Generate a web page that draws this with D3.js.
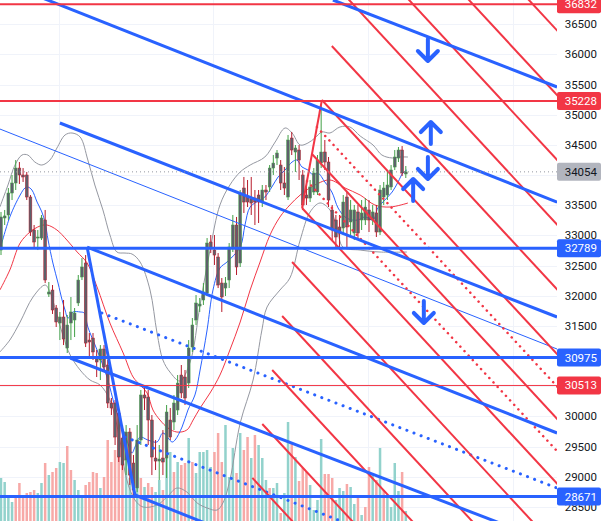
<!DOCTYPE html>
<html><head><meta charset="utf-8">
<script src="https://cdn.jsdelivr.net/npm/d3@7"></script>
<style>html,body{margin:0;padding:0;background:#fff;overflow:hidden}svg{display:block}</style>
</head><body>
<svg id="c" width="605" height="521"></svg>
<script>
// ---------- DATA ----------
const candles = [ // [open, high, low, close]
[32758,33389,32675,33306],[33289,33422,33173,33323],[33339,33786,33256,33703],[33703,34002,33587,33869],
[33869,34250,33753,34117],[34117,34217,33853,34002],[34002,34117,33886,33969],[34002,34052,33587,33637],
[33637,33670,32991,33057],[33090,33173,32791,32891],[32957,33090,32758,32974],[32957,33339,32924,33289],
[33256,33422,32211,32261],[32029,32228,31980,32062],[32095,32178,31698,31764],[31797,31847,31482,31565],
[31548,31731,31266,31648],[31648,31930,31183,31283],[31133,31681,31051,31515],[31548,31979,31266,31731],
[31598,31797,31316,31714],[31880,32344,31830,32261],[32311,32625,32261,32477],[32543,32675,31150,31216],
[31266,31382,30985,31233],[31299,31382,30935,31068],[30985,31101,30653,30902],[30935,31183,30603,31117],
[31117,31183,30736,30819],[30852,30935,30139,30222],[30222,30305,30023,30139],[30222,30272,29526,29658],
[30056,30106,29244,29327],[29642,29691,29111,29194],[29277,29857,29028,29741],[29741,29807,28863,29028],
[29227,29360,28680,28780],[28813,29857,28747,29609],[29609,30438,29526,30355],[30355,30471,30106,30305],
[30322,30438,29526,29940],[29940,30023,29028,29327],[29310,29609,29111,29260],[29260,29526,28946,29293],
[29310,29774,29028,29244],[29310,30189,28979,30073],[29940,30139,29609,29658],[29907,30355,29774,30222],
[30106,30686,30023,30553],[30686,30852,30305,30388],[30653,30769,30189,30305],[30553,31266,30471,31134],
[31150,31631,31068,31515],[31598,32012,31515,31880],[31830,31963,31731,31863],[31930,32211,31847,32062],
[32045,32957,31996,32874],[32891,33007,32708,32791],[32758,33007,32510,32675],[32642,32708,32128,32178],
[32211,32294,31731,31980],[32128,32311,31996,32211],[32261,32874,32128,32808],[32791,33339,32725,33173],
[33173,33306,32344,32477],[32543,33753,32477,33703],[33786,33969,33372,33554],[33637,33919,33471,33554],
[33604,33969,33339,33537],[33620,33753,33173,33554],[33670,33753,33206,33554],[33554,33836,33471,33753],
[33753,33836,33587,33720],[33803,34167,33720,34117],[34117,34333,34002,34200],[34283,34416,34167,34366],
[34167,34250,33753,33869],[33869,34134,33670,33786],[33637,34665,33587,34582],[34615,34715,34333,34416],
[34383,34499,34052,34449],[34416,34499,33919,34250],[34002,34085,33422,33505],[33670,33836,33505,33620],
[33620,33919,33554,33803],[33720,34117,33670,34035],[33720,34333,33670,34250],[34200,35162,34117,34383],
[34383,34582,34085,34217],[34217,34300,33471,33587],[33422,33505,32924,33090],[33256,33339,32808,32974],
[33140,33339,32758,33040],[33123,33670,33007,33554],[33637,33720,32791,33140],[33223,33587,33007,33422],
[33040,33505,32924,33422],[33389,33505,32957,33040],[33256,33587,33090,33372],[33256,33620,33173,33471],
[33422,33587,33057,33256],[33256,33505,33173,33389],[33372,33505,32974,33057],[33057,33836,33007,33753],
[33637,33886,33505,33786],[33670,34085,33587,33836],[33803,34167,33753,34085],[34134,34416,34085,34300],
[34283,34466,34217,34416],[34416,34482,33985,34035],[34019,34151,33952,34054]
];
const volumes = [43,39,23,19,24,38,23,28,29,31,28,38,58,46,49,53,59,58,75,51,41,31,26,36,39,49,48,
 33,44,81,59,71,64,61,63,43,36,33,43,34,38,34,29,41,31,64,69,49,59,56,58,83,59,48,69,69,71,54,69,88,59,96,44,73,48,88,71,84,63,86,76,63,41,33,33,38,8,28,
 99,79,64,40,53,49,36,11,21,82,47,47,43,21,33,30,37,34,17,24,6,14,54,48,41,73,31,24,14,58,30,49,10];
const volUp = [1,1,1,1,0,0,0,0,0,0,1,1,0,1,0,0,1,1,0,0,1,1,1,0,0,0,0,
 1,0,0,0,0,0,0,1,1,0,1,0,1,0,0,1,1,0,1,1,0,1,0,0,1,0,1,1,1,1,1,0,0,0,1,1,1,0,1,0,0,1,0,1,1,1,0,1,1,0,1,
 1,0,1,0,0,0,1,1,1,1,0,0,0,1,1,1,0,1,1,0,1,0,0,1,0,1,0,1,1,1,1,0,1];

const priceTicks = [36500,36000,35500,35000,34500,34000,33500,33000,32500,32000,31500,31000,30500,30000,29500,29000,28500];
const hiddenTicks = [34000,31000,30500]; // covered by price badges in the reference
const gridBars = [15.8, 57.6, 99.7, 139.1];

// indicator curves [barIndex, price]
const bbUpper = [[-0.3,33472],[1.9,33836],[3.8,34167],[5.7,34333],[7.3,34333],[9.2,34217],[11.1,34167],[13.3,34250],[15.2,34449],[17.4,34665],[19.3,34698],[21.5,34632],[23.6,34250],[25.5,33836],[27.7,33422],[29.6,33007],[31.5,32725],[33.7,32708],[35.6,32692],[37.8,32559],[40.5,32095],[42.4,31382],[44.0,30935],[45.9,30736],[48.6,30587],[51.4,30902],[54.1,31847],[56.8,32758],[59.5,33505],[62.2,33836],[65.0,34052],[67.7,34167],[71.7,34300],[74.5,34549],[77.2,34781],[79.1,34698],[81.3,34499],[83.4,34532],[85.3,34615],[87.2,34715],[89.4,34698],[92.1,34798],[94.8,34798],[97.6,34648],[101.1,34499],[103.5,34333],[106.3,34284],[108.4,34300],[110.6,34300]];
const bbLower = [[-0.3,31068],[2.4,31266],[5.2,31565],[8.7,31980],[12.0,32178],[13.3,32062],[15.2,31681],[16.8,31349],[18.8,31018],[21.5,30769],[24.2,30603],[26.9,30521],[29.6,30272],[32.3,29609],[34.2,28946],[36.4,28614],[38.6,28498],[42.4,28531],[45.1,28664],[47.8,28813],[50.5,28747],[53.3,28565],[56.0,28482],[58.7,28448],[60.3,28565],[62.2,28946],[65.0,29890],[68.5,30603],[70.9,31432],[72.3,31814],[75.8,32095],[78.5,32294],[81.3,32924],[84.0,33389],[86.7,33538],[89.4,33422],[91.3,33140],[92.9,32808],[97.6,32758],[103.0,32725],[110.3,32725]];
const maFast = [[-0.3,32758],[2.4,33306],[5.2,33670],[6.5,33786],[7.3,33803],[8.4,33753],[9.8,33554],[11.1,33389],[12.0,33206],[12.8,32924],[14.1,32543],[15.5,32211],[16.6,31930],[17.4,31764],[18.2,31631],[19.6,31731],[21.5,31731],[22.6,31714],[23.6,31482],[26.1,31101],[28.8,30653],[31.0,30156],[32.9,29824],[34.2,29609],[35.6,29393],[36.4,29492],[37.8,29658],[39.9,29609],[42.4,29576],[44.0,29725],[46.5,29576],[47.3,29609],[49.2,29824],[50.8,30106],[52.7,30355],[54.1,30769],[56.0,31432],[57.6,32095],[59.5,32460],[61.4,32559],[65.0,32808],[66.3,33173],[67.7,33471],[70.4,33587],[71.7,33637],[73.6,33803],[75.3,33969],[77.2,34085],[79.1,34217],[80.4,34250],[81.8,34134],[83.4,34085],[84.8,34002],[86.1,34035],[88.0,33886],[89.9,33720],[91.6,33455],[93.5,33306],[95.4,33256],[97.0,33256],[98.9,33306],[101.1,33256],[102.4,33455],[104.3,33587],[106.3,33720],[107.9,33886],[109.2,34035],[110.3,34085]];
const maSlow = [[-0.3,32095],[2.4,32427],[5.2,32874],[7.9,33057],[10.6,33156],[12.5,33173],[15.2,33090],[17.9,32924],[20.7,32725],[23.4,32543],[26.1,32145],[29.6,31548],[33.2,31051],[35.9,30653],[37.8,30521],[39.7,30388],[41.3,30106],[43.2,29940],[45.4,29807],[47.8,29741],[50.5,29774],[52.2,29940],[54.1,30139],[56.8,30388],[59.5,30686],[62.2,31101],[65.0,31565],[67.7,32095],[70.4,32559],[73.1,33007],[75.8,33306],[78.5,33505],[81.3,33670],[85.3,33836],[89.4,33919],[93.5,33786],[97.6,33670],[101.6,33505],[105.7,33471],[110.6,33538]];

// drawings [[bar, price],[bar, price]]
const blueThick = [
  [[90.2,36903],[151.1,35461]],
  [[9.2,36986],[151.1,33554]],
  [[16.0,34864],[151.1,31648]],
  [[23.4,32808],[151.1,29725]],
  [[36.4,28697],[70.4,27868]],
  [[18.8,30968],[151.1,27868]],
  [[23.4,32808],[36.4,28697]]
];
const blueThin = [[[-0.3,34764],[151.1,31117]]];
const blueDotted = [
  [[27.4,31714],[151.1,28813]],
  [[33.7,29658],[108.4,27885]]
];
const fibAnchors = [[81.8,33455],[151.1,28888],[87.2,35245]]; // start, direction, handle
const fibLevels = [-2.5,-2,-1.5,-1,-0.5,0,0.25,0.5,0.75,1,1.5,2,2.5,3,3.5];
const fibDotted = [0.25,0.75];

const hRed = [36832, 35228];
const hRedThin = [30513];
const hBlue = [32789, 30975, 28671];
const lastPrice = 34054;

const arrows = [ // [bar, price, direction]
  [116.0,36074,'down'],[116.8,34698,'up'],[116.0,34118,'down'],[112.0,33753,'up'],[114.9,31731,'down']
];
const badges = [[36832,'red'],[35228,'red'],[34054,'gray'],[32789,'blue'],[30975,'blue'],[30513,'red'],[28671,'blue']];

// ---------- DRAW ----------
const W = 605, H = 521, PW = 557;
const RED = '#f23645', BLUE = '#2962ff';
const x = d3.scaleLinear().domain([0,150]).range([1,553]);
const y = d3.scaleLinear().domain([28500,36500]).range([506.9,24.3]);
const yv = d3.scaleLinear().domain([0,200]).range([H, H-200]);

const svg = d3.select('#c');
svg.append('defs').append('clipPath').attr('id','plot').append('rect').attr('x',0).attr('y',0).attr('width',PW).attr('height',H);
const g = svg.append('g').attr('clip-path','url(#plot)');

// grid
g.append('g').selectAll('line').data(priceTicks).join('line')
  .attr('x1',0).attr('x2',PW).attr('y1',d=>Math.round(y(d))+0.5).attr('y2',d=>Math.round(y(d))+0.5)
  .attr('stroke','#f0f3fa').attr('stroke-width',1);
g.append('g').selectAll('line').data(gridBars).join('line')
  .attr('x1',d=>Math.round(x(d))+0.5).attr('x2',d=>Math.round(x(d))+0.5).attr('y1',0).attr('y2',H)
  .attr('stroke','#f0f3fa').attr('stroke-width',1);

// volume
g.append('g').selectAll('rect').data(volumes).join('rect')
  .attr('x',(d,i)=>x(i)-1.25).attr('width',2.5)
  .attr('y',d=>yv(d)).attr('height',d=>H-yv(d))
  .attr('fill',(d,i)=>volUp[i]?'#92d2cc':'#f7a9a7');

// indicators
const curve = d3.line().x(d=>x(d[0])).y(d=>y(d[1])).curve(d3.curveCatmullRom.alpha(0.5));
g.append('path').attr('d',curve(bbUpper)).attr('fill','none').attr('stroke','#9598a1').attr('stroke-width',1);
g.append('path').attr('d',curve(bbLower)).attr('fill','none').attr('stroke','#9598a1').attr('stroke-width',1);
g.append('path').attr('d',curve(maSlow)).attr('fill','none').attr('stroke',RED).attr('stroke-width',1);
g.append('path').attr('d',curve(maFast)).attr('fill','none').attr('stroke',BLUE).attr('stroke-width',1);

// candles
const cg = g.append('g');
candles.forEach((c,i)=>{
  const [o,h,l,cl] = c; const up = cl>=o;
  const cx = x(i);
  cg.append('line').attr('x1',cx).attr('x2',cx).attr('y1',y(h)).attr('y2',y(l))
    .attr('stroke',up?'#43a047':'#b71c2c').attr('stroke-width',1);
  const top = y(Math.max(o,cl)), bot = y(Math.min(o,cl));
  cg.append('rect').attr('x',cx-1.4).attr('width',2.8).attr('y',top).attr('height',Math.max(1,bot-top))
    .attr('fill','#5d606b').attr('stroke',up?'#43a047':'#b71c2c').attr('stroke-width',0.5);
});

// straight segments
const seg = d3.line().x(d=>x(d[0])).y(d=>y(d[1]));
function drawSeg(pts, color, w, dash){
  const p = g.append('path').attr('d',seg(pts)).attr('fill','none').attr('stroke',color).attr('stroke-width',w).attr('stroke-linecap', dash?'round':'butt');
  if(dash) p.attr('stroke-dasharray',dash);
}
blueThin.forEach(s=>drawSeg(s,BLUE,1));
blueDotted.forEach(s=>drawSeg(s,BLUE,3,'0.1,7.5'));

// fib channel
const [fA,fB,fH] = fibAnchors;
const dI = fH[0]-fA[0], dP = fH[1]-fA[1];
const vI = fB[0]-fA[0], vP = fB[1]-fA[1];
drawSeg([fA,fH],RED,2);
fibLevels.forEach(k=>{
  const s = [fA[0]+k*dI, fA[1]+k*dP];
  const e = [s[0]+vI*1.6, s[1]+vP*1.6];
  const dotted = fibDotted.includes(k);
  drawSeg([s,e],RED,dotted?2.5:2,dotted?'0.1,6':null);
});
blueThick.forEach(s=>drawSeg(s,BLUE,3));

// horizontals
function hline(p,color,w,dash){
  const l = g.append('line').attr('x1',0).attr('x2',PW).attr('y1',y(p)).attr('y2',y(p)).attr('stroke',color).attr('stroke-width',w);
  if(dash) l.attr('stroke-dasharray',dash);
}
hline(lastPrice,'#9598a1',1,'1,3');
hRed.forEach(p=>hline(p,RED,2));
hRedThin.forEach(p=>hline(p,RED,1));
hBlue.forEach(p=>hline(p,BLUE,3));

// arrows
arrows.forEach(([b,p,dir])=>{
  const cx = x(b), cy = y(p), h = 22, w = 20, s = dir==='up'?-1:1;
  const tipY = cy + s*h/2, tailY = cy - s*h/2;
  const d = `M${cx},${tailY}L${cx},${tipY}M${cx-w/2},${tipY - s*w/2}L${cx},${tipY}L${cx+w/2},${tipY - s*w/2}`;
  g.append('path').attr('d',d).attr('fill','none').attr('stroke',BLUE).attr('stroke-width',4)
    .attr('stroke-linecap','round').attr('stroke-linejoin','round');
});

// axis labels
const FONT = 'Roboto, "Liberation Sans", sans-serif';
svg.append('g').selectAll('text').data(priceTicks.filter(t=>!hiddenTicks.includes(t))).join('text')
  .attr('x',597).attr('y',d=>y(d)).attr('dy','0.35em').attr('text-anchor','end')
  .attr('font-family',FONT).attr('font-size',11.5).attr('fill','#131722').text(d=>d);

// badges
const bColor = {red:RED, blue:BLUE, gray:'#b2b5be'};
const bg = svg.append('g');
badges.forEach(([p,c])=>{
  const cy = y(p);
  bg.append('rect').attr('x',557).attr('y',cy-9).attr('width',44).attr('height',18).attr('rx',2).attr('fill',bColor[c]);
  bg.append('text').attr('x',597).attr('y',cy).attr('dy','0.35em').attr('text-anchor','end')
    .attr('font-family',FONT).attr('font-size',11.5).attr('fill',c==='gray'?'#131722':'#ffffff').text(p);
});
</script>
</body></html>
